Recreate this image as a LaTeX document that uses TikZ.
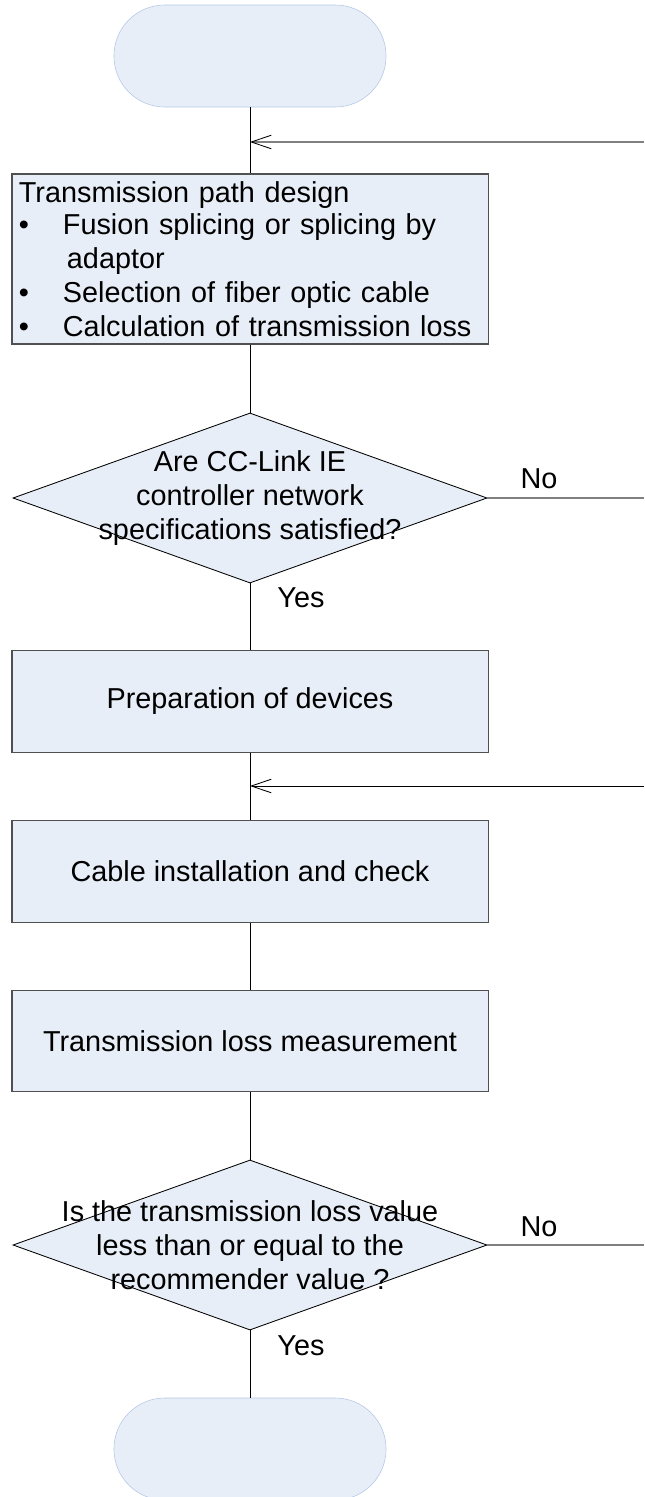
\documentclass[tikz,border=0pt]{standalone}
\usepackage{fontspec}
\setmainfont{Liberation Sans}
\usepackage{xcolor}
\usepackage{tikz}
\usetikzlibrary{positioning,shapes.geometric,arrows.meta}
\definecolor{boxfill}{RGB}{232,238,247}
\definecolor{termline}{RGB}{180,199,231}
\definecolor{boxline}{RGB}{80,80,80}
\definecolor{loopgray}{RGB}{128,128,128}

\begin{document}
\begin{tikzpicture}[
	x=0.025cm, y=-0.025cm,
	every node/.style={font=\fontsize{20.5}{24.2}\selectfont},
	term/.style={ % start / end
		draw=termline, fill=boxfill,
		minimum width=6.8cm, minimum height=2.55cm,
		rounded corners=1.27cm
	},
	procbox/.style={ % process step
		draw=boxline, fill=boxfill, line width=0.8pt,
		minimum width=11.9cm, minimum height=2.53cm
	},
	decision/.style={ % question diamond, text set apart
		diamond, draw=black, fill=boxfill, line width=0.6pt,
		inner sep=0pt, minimum width=11.85cm, minimum height=4.25cm
	},
	flow/.style={draw=black, line width=0.7pt},
	noline/.style={draw=loopgray, line width=1.4pt},
	back_arrow/.style={ % return arrow into the main line
		-{Straight Barb[length=0.5cm, width=0.34cm, line width=0.6pt, color=black]}
	}
	]
	\useasboundingbox (0,0) rectangle (644,1497);
	
	% ================= NODES =================
	\node[term] (start) at (250,56) {};
	\node[procbox, minimum height=4.25cm, text width=11.55cm, align=left,
		inner xsep=0.175cm] (design) at (250,259) {%
		Transmission path design\\[-0.05cm]
		\makebox[1.1cm][l]{\textbullet}Fusion splicing or splicing by\\
		\hspace*{1.2cm}adaptor\\
		\makebox[1.1cm][l]{\textbullet}Selection of fiber optic cable\\
		\makebox[1.1cm][l]{\textbullet}Calculation of transmission loss};
	\node[decision] (spec) at (250,498) {};
	\node[align=center] (spectext) at (spec.center) {Are CC-Link IE\\controller network\\specifications satisfied?};
	\node[procbox] (prep) at (250,701.5) {Preparation of devices};
	\node[procbox] (cable) at (250,871.5) {Cable installation and check};
	\node[procbox] (meas) at (250,1041) {Transmission loss measurement};
	\node[decision] (loss) at (250,1245) {};
	\node[align=center] (losstext) at (loss.center) {Is the transmission loss value\\less than or equal to the\\recommender value ?};
	\node[term] (stop) at (250,1449) {};
	
	% junctions and right edge
	\coordinate (j1) at (250,142);
	\coordinate (j2) at (250,786);
	\coordinate (e1) at (644,142);
	\coordinate (e2) at (644,498);
	\coordinate (e3) at (644,786);
	\coordinate (e4) at (644,1245);
	
	% ================= CONNECTORS =================
	\draw[flow] (start) -- (design);
	\draw[flow] (design) -- (spec);
	\draw[flow] (spec) -- (prep);
	\draw[flow] (prep) -- (cable);
	\draw[flow] (cable) -- (meas);
	\draw[flow] (meas) -- (loss);
	\draw[flow] (loss) -- (stop);
	
	% No branches leave to the right
	\draw[noline] (spec.east) -- (e2);
	\draw[noline] (loss.east) -- (e4);
	\draw[noline, back_arrow] (e1) -- (j1);
	\draw[flow, back_arrow] (e3) -- (j2);
	
	% labels
	\node (no1) at (539,479) {No};
	\node (yes1) at (301,598) {Yes};
	\node (no2) at (539,1227) {No};
	\node (yes2) at (301,1346) {Yes};
\end{tikzpicture}
\end{document}
